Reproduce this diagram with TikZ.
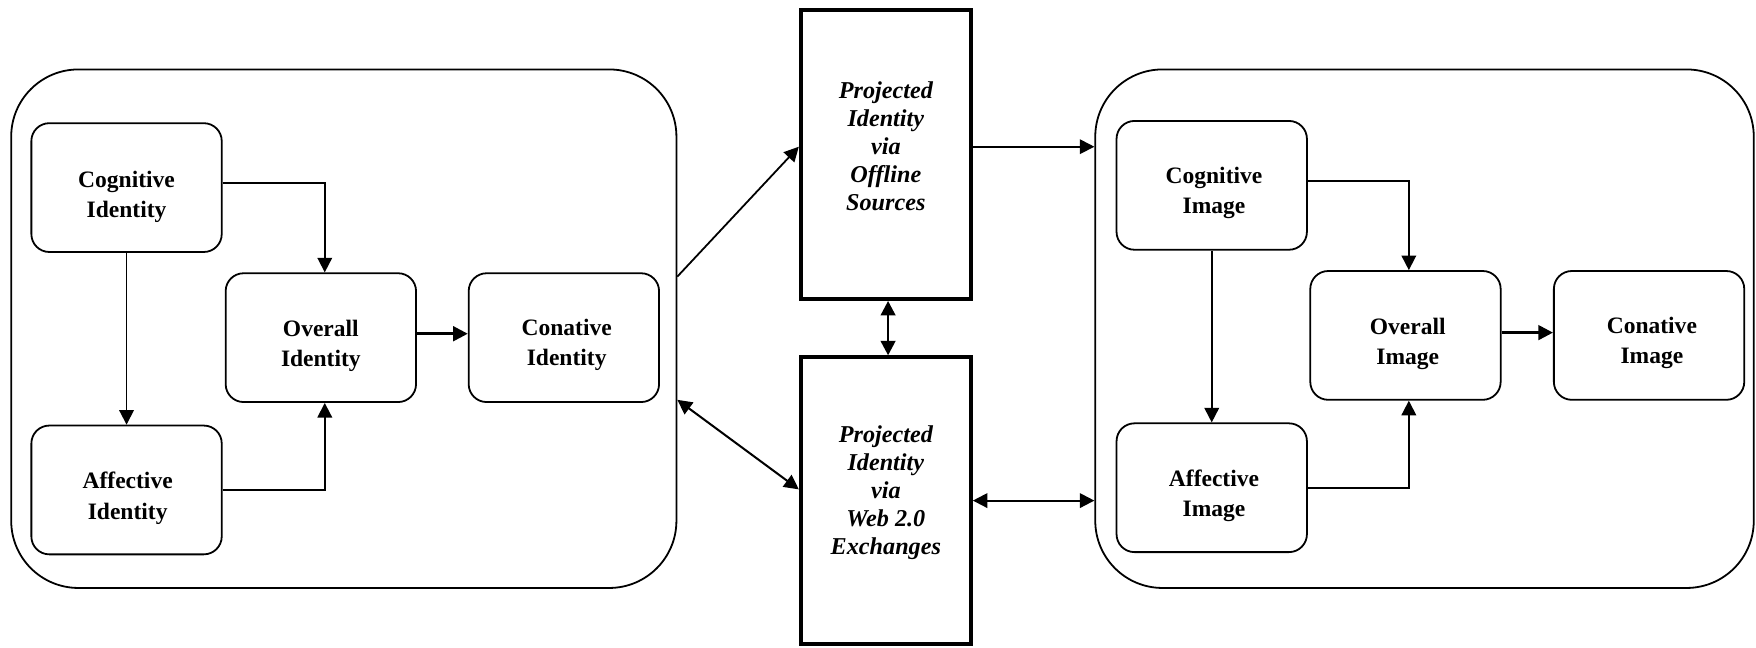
\documentclass[tikz,border=0pt]{standalone}
\usepackage{fontspec}
\setmainfont{Liberation Serif}
\usetikzlibrary{arrows.meta}
\begin{document}
\begin{tikzpicture}[x=0.5pt,y=-0.5pt,
  every node/.style={inner sep=0pt},
  bigbox/.style={draw,line width=0.8pt,rounded corners=30pt,minimum width=#1*0.5pt,minimum height=231.5pt},
  smallbox/.style={draw,line width=0.8pt,rounded corners=8pt,minimum width=85pt,minimum height=57.5pt},
  boxtext/.style={align=center,font=\fontsize{10.5}{13.5}\selectfont\bfseries},
  projbox/.style={draw,line width=1.7pt,minimum width=76pt,minimum height=#1*0.5pt},
  projtext/.style={align=center,font=\fontsize{10.8}{12.5}\selectfont\bfseries\itshape},
  tip/.tip={Triangle[length=6.5pt,width=6.5pt]},
  arr/.style={line width=0.8pt,-tip},
  darr/.style={line width=0.9pt,tip-tip},
  thickarr/.style={line width=1.2pt,-tip}]
\useasboundingbox (0,0) rectangle (1568,578);
% big containers
\node[bigbox=594] (LeftBig) at (307,293.5) {};
\node[bigbox=588] (RightBig) at (1272,293.5) {};
% left nodes
\node[smallbox] (CogId) at (113,167.5) {};
\node[boxtext] (CogIdT) at (113,176) {Cognitive\\Identity};
\node[smallbox] (OverId) at (286.5,301.5) {};
\node[boxtext] (OverIdT) at (286.5,309) {Overall\\Identity};
\node[smallbox] (ConId) at (503.5,301.5) {};
\node[boxtext] (ConIdT) at (506,308) {Conative\\Identity};
\node[smallbox] (AffId) at (113,437.5) {};
\node[boxtext] (AffIdT) at (114,445) {Affective\\Identity};
% middle
\node[projbox=258] (Offline) at (791,138) {};
\node[projtext] (OfflineText) at (791,131) {Projected\\Identity\\via\\Offline\\Sources};
\node[projbox=256] (Web) at (791,447) {};
\node[projtext] (WebText) at (791,440) {Projected\\Identity\\via\\Web 2.0\\Exchanges};
% right nodes
\node[smallbox] (CogIm) at (1082,165.5) {};
\node[boxtext] (CogImT) at (1084,172.5) {Cognitive\\Image};
\node[smallbox] (OverIm) at (1255,299.5) {};
\node[boxtext] (OverImT) at (1257,307) {Overall\\Image};
\node[smallbox] (ConIm) at (1472.5,299.5) {};
\node[boxtext] (ConImT) at (1475,306) {Conative\\Image};
\node[smallbox] (AffIm) at (1082,435.5) {};
\node[boxtext] (AffImT) at (1084,443) {Affective\\Image};
% left connectors
\draw[arr] ([yshift=2pt]CogId.east) -| ([xshift=1.75pt]OverId.north);
\draw[arr] (CogId.south) -- (AffId.north);
\draw[arr] (AffId.east) -| ([xshift=1.75pt]OverId.south);
\draw[thickarr] ([yshift=1.75pt]OverId.east) -- ([yshift=1.75pt]ConId.west);
% right connectors
\draw[arr] ([yshift=2pt]CogIm.east) -| ([xshift=1.5pt]OverIm.north);
\draw[arr] (CogIm.south) -- (AffIm.north);
\draw[arr] (AffIm.east) -| ([xshift=1.5pt]OverIm.south);
\draw[thickarr] ([yshift=1.25pt]OverIm.east) -- ([yshift=1.25pt]ConIm.west);
% middle connectors
\draw[arr] ([yshift=23.25pt]LeftBig.east) -- ([yshift=3.5pt]Offline.west);
\draw[darr] ([yshift=-31.75pt]LeftBig.east) -- ([yshift=5pt]Web.west);
\draw[darr,line width=1.2pt] ([xshift=1pt]Offline.south) -- ([xshift=1pt]Web.north);
\draw[arr] ([yshift=3.5pt]Offline.east) -- ([yshift=3.5pt]Offline.east -| RightBig.west);
\draw[darr] (Web.east) -- (Web.east -| RightBig.west);
\end{tikzpicture}
\end{document}
